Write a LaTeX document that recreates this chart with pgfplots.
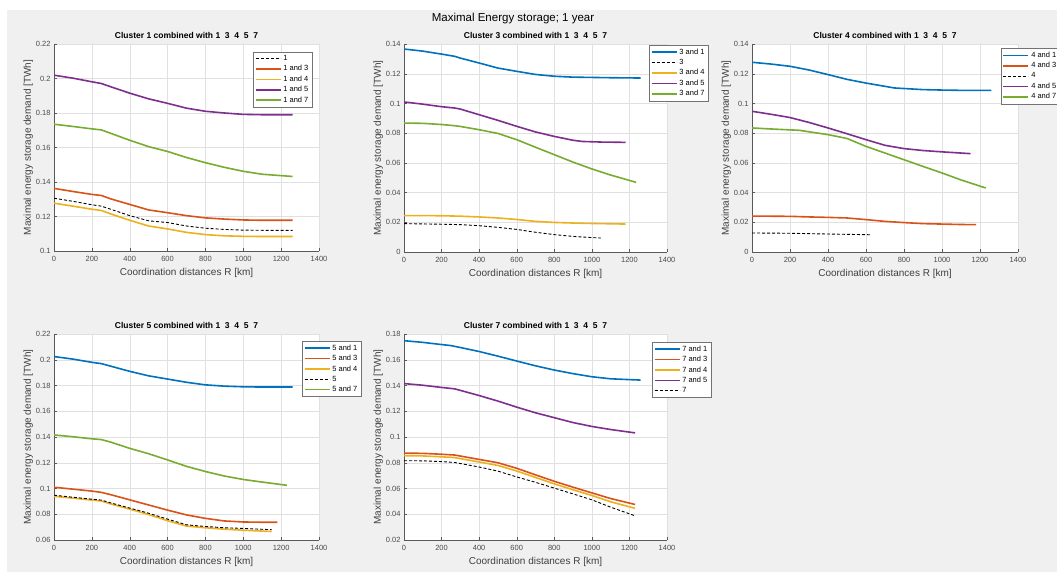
\documentclass[border=0pt]{standalone}
\usepackage{fontspec}
\setmainfont{Liberation Sans}
\usepackage{pgfplots}
\pgfplotsset{compat=1.18}

\definecolor{mblue}{HTML}{0072BD}
\definecolor{morange}{HTML}{D95319}
\definecolor{myellow}{HTML}{EDB120}
\definecolor{mpurple}{HTML}{7E2F8E}
\definecolor{mgreen}{HTML}{77AC30}
\definecolor{figbg}{HTML}{F0F0F0}

\pgfplotsset{
 mat/.style={
  scale only axis,
  anchor=south west,
  xmin=0, xmax=1400, xtick={0,200,...,1400},
  axis x line*=bottom, axis y line*=left,
  axis line style={-, draw=black!65},
  axis background/.style={fill=white},
  grid=major, major grid style={draw=black!12, line width=0.4pt},
  tick align=inside, major tick length=3pt,
  tick style={draw=black!65},
  ticklabel style={font=\fontsize{7.5}{8}\selectfont, text=black!70},
  xticklabel style={yshift=-2pt},
  /pgf/number format/assume math mode=true,
  /pgf/number format/1000 sep={},
  y tick label style={/pgf/number format/.cd, fixed, precision=2, 1000 sep={}},
  scaled y ticks=false,
  xlabel={Coordination distances R [km]},
  ylabel={Maximal energy storage demand [TWh]},
  label style={font=\fontsize{10}{11}\selectfont, text=black!75},
  ylabel style={yshift=-4pt},
  title style={font=\bfseries\fontsize{8.5}{9}\selectfont, yshift=-4pt},
  legend style={font=\fontsize{7.5}{8.5}\selectfont, draw=black!55, fill=white, inner sep=1.5pt, row sep=-0.5pt, legend cell align=left},
  legend image code/.code={\draw[##1] (0pt,0pt) -- (25pt,0pt);},
 },
 cl/.style={line width=1.6pt},
 ds/.style={black, line width=0.9pt, dash pattern=on 3pt off 2pt},
}

\begin{document}
\begin{tikzpicture}
\path[use as bounding box] (0,0) rectangle (1057pt,-572pt);
\fill[white] (0,0) rectangle (1057pt,-572pt);
\fill[figbg] (7pt,-10pt) rectangle (1057pt,-572pt);
\node[font=\fontsize{11.5}{12}\selectfont] at (513pt,-19pt) {Maximal Energy storage; 1 year};

% Panel 1
\begin{axis}[mat, at={(54pt,-251pt)}, width=265pt, height=207pt,
  ymin=0.1, ymax=0.22, ytick={0.1,0.12,...,0.221},
  title={Cluster 1 combined with 1\ \ 3\ \ 4\ \ 5\ \ 7},
  legend style={at={(0.974,0.963)}, anchor=north east}]
\addplot[ds] coordinates {(0,0.1306)(100,0.1288)(200,0.1268)(250,0.126)(300,0.1242)(400,0.1205)(500,0.1175)(600,0.1165)(700,0.1145)(800,0.1132)(900,0.1125)(1000,0.1121)(1100,0.112)(1260,0.112)};
\addlegendentry{1}
\addplot[cl, morange] coordinates {(0,0.1363)(100,0.1345)(200,0.1328)(250,0.1322)(300,0.1302)(400,0.127)(500,0.1238)(600,0.1222)(700,0.1205)(800,0.1192)(900,0.1185)(1000,0.118)(1100,0.1178)(1260,0.1178)};
\addlegendentry{1 and 3}
\addplot[cl, myellow] coordinates {(0,0.1277)(100,0.126)(200,0.1242)(250,0.1235)(300,0.1215)(400,0.1178)(500,0.1145)(600,0.1128)(700,0.1108)(800,0.1095)(900,0.1088)(1000,0.1085)(1100,0.1084)(1260,0.1084)};
\addlegendentry{1 and 4}
\addplot[cl, mpurple] coordinates {(0,0.2019)(100,0.2002)(200,0.1981)(250,0.1971)(300,0.1952)(400,0.1915)(500,0.1882)(600,0.1856)(700,0.1828)(800,0.181)(900,0.18)(1000,0.1792)(1100,0.179)(1260,0.179)};
\addlegendentry{1 and 5}
\addplot[cl, mgreen] coordinates {(0,0.1735)(100,0.1722)(200,0.1708)(250,0.1702)(300,0.1682)(400,0.1642)(500,0.1605)(600,0.1577)(700,0.1542)(800,0.1512)(900,0.1485)(1000,0.1462)(1100,0.1445)(1260,0.1432)};
\addlegendentry{1 and 7}
\end{axis}

% Panel 2
\begin{axis}[mat, at={(404pt,-252pt)}, width=263pt, height=208pt,
  ymin=0, ymax=0.14, ytick={0,0.02,...,0.141},
  title={Cluster 3 combined with 1\ \ 3\ \ 4\ \ 5\ \ 7},
  legend style={at={(0.932,0.995)}, anchor=north west}]
\addplot[cl, mblue] coordinates {(0,0.1366)(100,0.1352)(200,0.1332)(270,0.1317)(300,0.1305)(400,0.1272)(500,0.1238)(600,0.1216)(700,0.1195)(800,0.1183)(900,0.1177)(1000,0.1175)(1100,0.1173)(1260,0.1171)};
\addlegendentry{3 and 1}
\addplot[ds] coordinates {(0,0.0191)(100,0.0189)(200,0.0187)(300,0.0184)(400,0.0177)(500,0.0166)(600,0.0152)(700,0.0133)(800,0.0117)(900,0.0105)(1000,0.0097)(1048,0.0094)};
\addlegendentry{3}
\addplot[cl, myellow] coordinates {(0,0.0245)(100,0.0245)(200,0.0244)(300,0.0241)(400,0.0236)(500,0.0229)(600,0.0219)(700,0.0206)(800,0.0199)(900,0.0195)(1000,0.0192)(1100,0.019)(1180,0.0188)};
\addlegendentry{3 and 4}
\addplot[cl, mpurple] coordinates {(0,0.101)(100,0.0995)(200,0.0978)(270,0.0969)(300,0.0962)(400,0.0924)(500,0.0886)(600,0.0846)(700,0.0808)(800,0.0778)(900,0.0752)(950,0.0744)(1050,0.074)(1180,0.0738)};
\addlegendentry{3 and 5}
\addplot[cl, mgreen] coordinates {(0,0.0868)(100,0.0866)(200,0.0858)(270,0.085)(300,0.0845)(400,0.0823)(500,0.0798)(600,0.0756)(700,0.0705)(800,0.0655)(900,0.0605)(1000,0.0559)(1100,0.0518)(1235,0.0469)};
\addlegendentry{3 and 7}
\end{axis}

% Panel 3
\begin{axis}[mat, at={(752pt,-252pt)}, width=266pt, height=208pt,
  ymin=0, ymax=0.14, ytick={0,0.02,...,0.141},
  title={Cluster 4 combined with 1\ \ 3\ \ 4\ \ 5\ \ 7},
  legend style={at={(0.936,0.98)}, anchor=north west}]
\addplot[cl, mblue] coordinates {(0,0.1277)(100,0.1265)(200,0.125)(300,0.1225)(400,0.1194)(500,0.1162)(600,0.1137)(700,0.1115)(750,0.1104)(900,0.1093)(1000,0.109)(1100,0.1088)(1260,0.1088)};
\addlegendentry{4 and 1}
\addplot[cl, morange] coordinates {(0,0.0241)(100,0.0241)(200,0.024)(300,0.0236)(400,0.0233)(500,0.0229)(600,0.0218)(700,0.0206)(800,0.0198)(900,0.0191)(1000,0.0188)(1100,0.0185)(1180,0.0184)};
\addlegendentry{4 and 3}
\addplot[ds] coordinates {(0,0.0128)(200,0.0126)(400,0.0121)(630,0.0116)};
\addlegendentry{4}
\addplot[cl, mpurple] coordinates {(0,0.0947)(100,0.0927)(200,0.0905)(300,0.0872)(400,0.0835)(500,0.0796)(600,0.0756)(700,0.0718)(800,0.0696)(900,0.0683)(1000,0.0674)(1150,0.0662)};
\addlegendentry{4 and 5}
\addplot[cl, mgreen] coordinates {(0,0.0835)(100,0.0828)(200,0.0822)(250,0.0819)(300,0.0809)(400,0.079)(500,0.0764)(600,0.0711)(700,0.0666)(800,0.0621)(900,0.0576)(1000,0.0532)(1100,0.0485)(1230,0.0431)};
\addlegendentry{4 and 7}
\end{axis}

% Panel 4
\begin{axis}[mat, at={(54pt,-540pt)}, width=265pt, height=206pt,
  ymin=0.06, ymax=0.22, ytick={0.06,0.08,...,0.221},
  title={Cluster 5 combined with 1\ \ 3\ \ 4\ \ 5\ \ 7},
  legend style={at={(0.936,0.966)}, anchor=north west}]
\addplot[cl, mblue] coordinates {(0,0.2025)(100,0.2005)(200,0.198)(250,0.197)(300,0.195)(400,0.191)(500,0.1875)(600,0.185)(700,0.1825)(800,0.1805)(900,0.1795)(1000,0.179)(1100,0.1788)(1260,0.1788)};
\addlegendentry{5 and 1}
\addplot[cl, morange] coordinates {(0,0.101)(100,0.0995)(200,0.098)(250,0.097)(300,0.0952)(400,0.0912)(500,0.0872)(600,0.0832)(700,0.0795)(800,0.0768)(900,0.0748)(1000,0.074)(1100,0.0738)(1180,0.0738)};
\addlegendentry{5 and 3}
\addplot[cl, myellow] coordinates {(0,0.094)(100,0.0925)(200,0.091)(250,0.0903)(300,0.088)(400,0.084)(500,0.0798)(600,0.075)(700,0.0708)(800,0.0695)(900,0.0684)(1000,0.0676)(1150,0.0666)};
\addlegendentry{5 and 4}
\addplot[ds] coordinates {(0,0.0948)(100,0.0932)(200,0.0917)(250,0.091)(300,0.0888)(400,0.0848)(500,0.0808)(600,0.0762)(700,0.0718)(800,0.0705)(900,0.0695)(1000,0.069)(1150,0.068)};
\addlegendentry{5}
\addplot[cl, mgreen] coordinates {(0,0.1416)(100,0.1402)(200,0.1386)(250,0.138)(300,0.136)(400,0.1312)(500,0.127)(600,0.1222)(700,0.1172)(800,0.1132)(900,0.1097)(1000,0.107)(1100,0.105)(1230,0.1025)};
\addlegendentry{5 and 7}
\end{axis}

% Panel 5
\begin{axis}[mat, at={(404pt,-540pt)}, width=263pt, height=206pt,
  ymin=0.02, ymax=0.18, ytick={0.02,0.04,...,0.181},
  title={Cluster 7 combined with 1\ \ 3\ \ 4\ \ 5\ \ 7},
  legend style={at={(0.943,0.961)}, anchor=north west}]
\addplot[cl, mblue] coordinates {(0,0.1748)(100,0.1735)(200,0.1718)(250,0.171)(300,0.1695)(400,0.1664)(500,0.1628)(600,0.159)(700,0.1553)(800,0.152)(900,0.1492)(1000,0.1468)(1100,0.1452)(1260,0.1442)};
\addlegendentry{7 and 1}
\addplot[cl, morange] coordinates {(0,0.0875)(100,0.0873)(200,0.0866)(270,0.086)(300,0.0852)(400,0.0826)(500,0.08)(600,0.0757)(700,0.0706)(800,0.0656)(900,0.061)(1000,0.0566)(1100,0.0522)(1230,0.0476)};
\addlegendentry{7 and 3}
\addplot[cl, myellow] coordinates {(0,0.0855)(100,0.0853)(200,0.0846)(270,0.084)(300,0.0832)(400,0.0806)(500,0.0779)(600,0.0736)(700,0.0686)(800,0.0636)(900,0.059)(1000,0.0546)(1100,0.0497)(1230,0.0446)};
\addlegendentry{7 and 4}
\addplot[cl, mpurple] coordinates {(0,0.1415)(100,0.1402)(200,0.1385)(270,0.1374)(300,0.1362)(400,0.1322)(500,0.1279)(600,0.1232)(700,0.1188)(800,0.115)(900,0.1112)(1000,0.1082)(1100,0.1058)(1230,0.1032)};
\addlegendentry{7 and 5}
\addplot[ds] coordinates {(0,0.0816)(100,0.0815)(200,0.0809)(270,0.0802)(300,0.0794)(400,0.0767)(500,0.0735)(600,0.069)(700,0.0648)(800,0.0603)(900,0.0558)(1000,0.0512)(1100,0.0455)(1230,0.0388)};
\addlegendentry{7}
\end{axis}
\end{tikzpicture}
\end{document}
